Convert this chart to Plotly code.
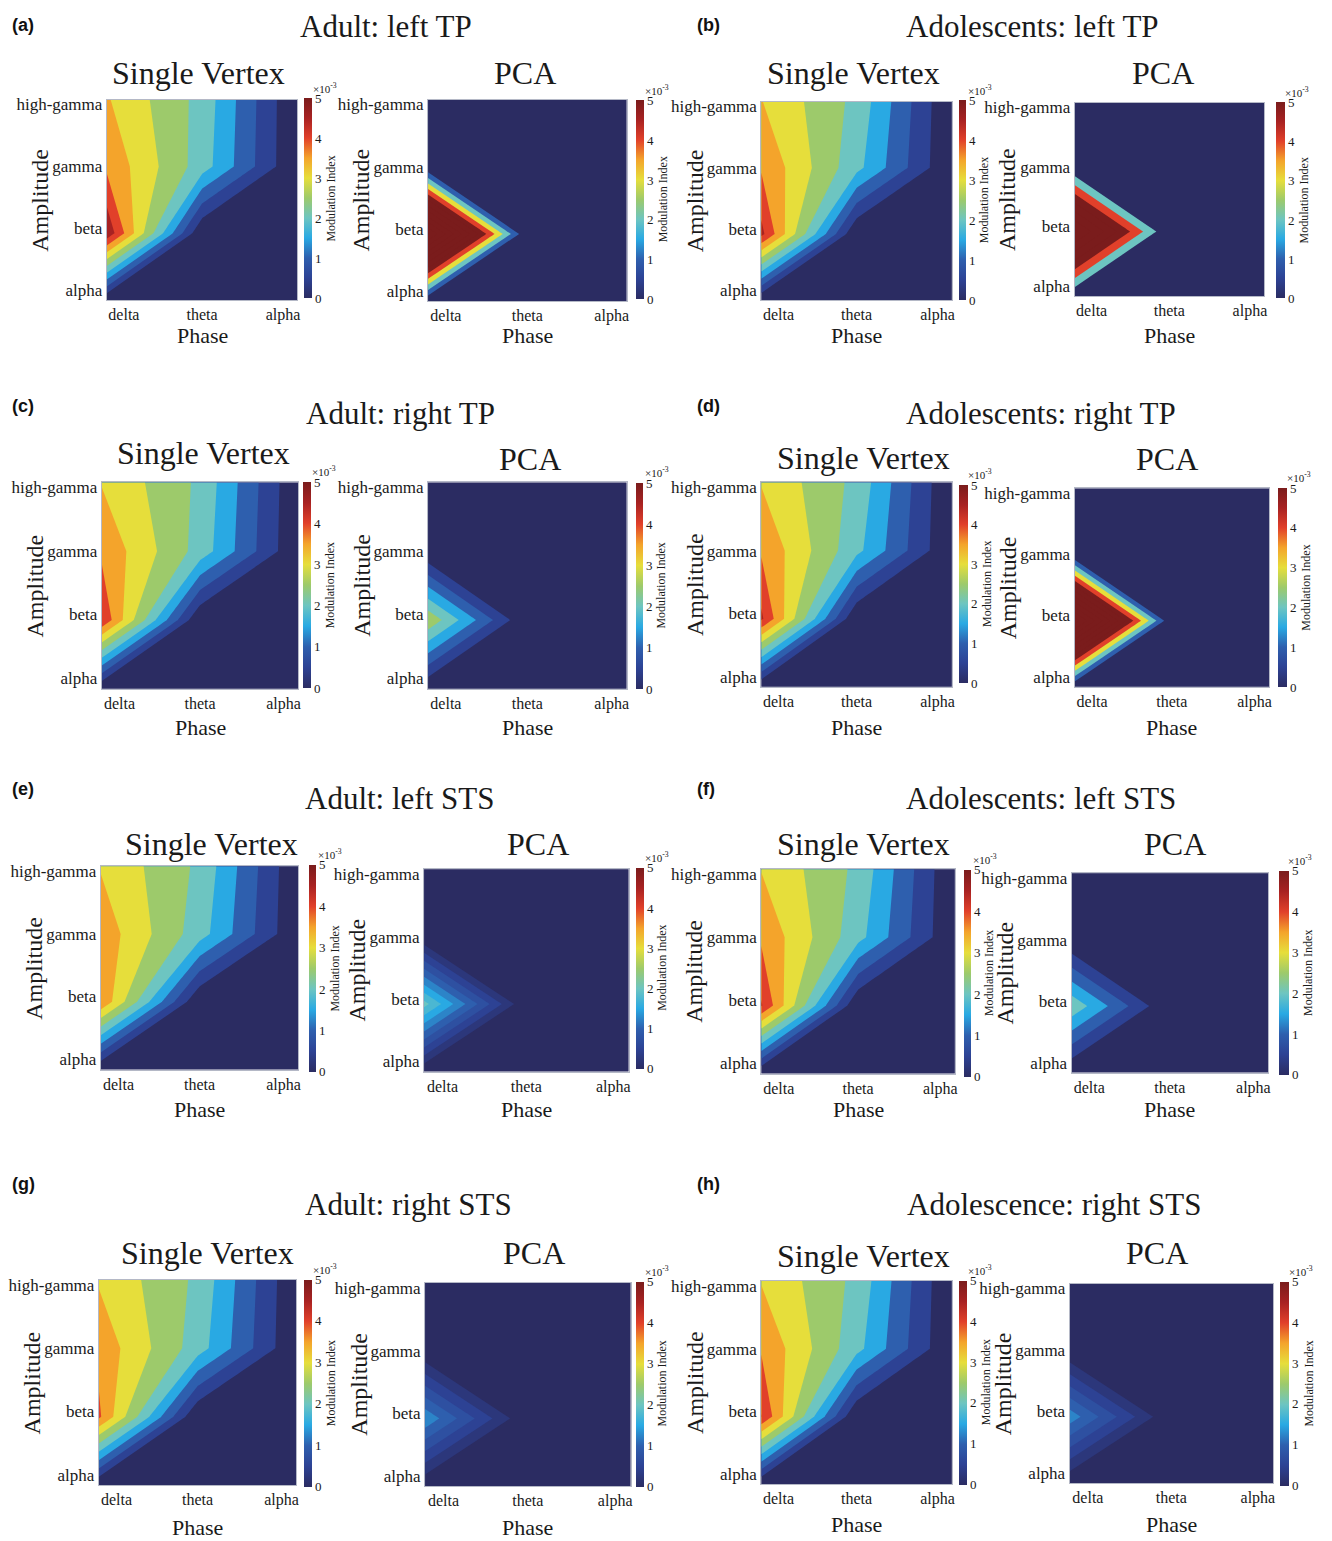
import plotly.graph_objects as go

W, H = 1332, 1541

# ---------------- data (Modulation Index, x1e-3) ----------------
phase_labels = ["delta", "theta", "alpha"]
amp_labels = ["alpha", "beta", "gamma", "high-gamma"]
phase_tickpos = [0.18, 1.0, 1.85]
amp_tickpos = [0.15, 1.08, 2.0, 2.93]
grid_x = [0, 1, 2]          # phase grid (delta .. alpha)
grid_y = [0, 1, 2, 3]       # amplitude grid (alpha .. high-gamma)

# rows: alpha, beta, gamma, high-gamma ; cols: delta, theta, alpha
sv_a = [[0, 0, 0], [4.9, 0, 0], [3.9, 2.25, 0], [3.55, 2.33, 0]]
sv_b = [[0, 0, 0], [4.65, 0, 0], [3.95, 2.16, 0], [3.52, 2.36, 0]]
sv_c = [[0, 0, 0], [4.45, 0, 0], [3.9, 2.3, 0.03], [3.47, 2.4, 0.05]]
sv_d = [[0, 0, 0], [4.6, 0, 0], [3.94, 2.15, 0], [3.47, 2.36, 0]]
sv_e = [[0, 0, 0], [3.95, 0, 0], [3.82, 2.23, 0.03], [3.46, 2.4, 0.04]]
sv_f = [[0, 0, 0], [4.55, 0, 0], [3.92, 2.18, 0], [3.48, 2.38, 0]]
sv_g = [[0, 0, 0], [4.1, 0, 0], [3.85, 2.25, 0.03], [3.45, 2.4, 0.04]]
sv_h = [[0, 0, 0], [4.52, 0, 0], [3.95, 2.17, 0], [3.47, 2.37, 0]]

pca_a = [[0, 0, 0], [12.1, 0, 0], [0, 0, 0], [0, 0, 0]]
pca_b = [[0, 0, 0], [14.5, 0, 0], [0, 0, 0], [0, 0, 0]]
pca_c = [[0, 0, 0], [2.9, 0, 0], [0, 0, 0], [0, 0, 0]]
pca_d = [[0, 0, 0], [12.6, 0, 0], [0, 0, 0], [0, 0, 0]]
pca_e = [[0, 0, 0], [2.1, 0, 0], [0, 0, 0], [0, 0, 0]]
pca_f = [[0, 0, 0], [2.38, 0, 0], [0, 0, 0], [0, 0, 0]]
pca_g = [[0, 0, 0], [1.45, 0, 0], [0, 0, 0], [0, 0, 0]]
pca_h = [[0, 0, 0], [1.4, 0, 0], [0, 0, 0], [0, 0, 0]]

panel_letters = ["(a)", "(b)", "(c)", "(d)", "(e)", "(f)", "(g)", "(h)"]
panel_titles = ["Adult: left TP", "Adolescents: left TP", "Adult: right TP",
                "Adolescents: right TP", "Adult: left STS", "Adolescents: left STS",
                "Adult: right STS", "Adolescence: right STS"]
sv_data = [sv_a, sv_b, sv_c, sv_d, sv_e, sv_f, sv_g, sv_h]
pca_data = [pca_a, pca_b, pca_c, pca_d, pca_e, pca_f, pca_g, pca_h]
CMIN, CMAX = 0, 5

# ---------------- styling / layout ----------------
SERIF = "Liberation Serif, Times New Roman, serif"
SANS = "Liberation Sans, Arial, sans-serif"
TXT = "#1a1a1a"

cmap_anchors = [
    (0.0, "#2b2c62"), (0.1, "#2d4294"), (0.2, "#2e5fae"), (0.3, "#29a9e3"),
    (0.4, "#6dc5c1"), (0.5, "#9dca6b"), (0.6, "#e6de3b"), (0.7, "#f4a42b"),
    (0.8, "#e1402a"), (0.9, "#a82222"), (1.0, "#7a1c1c"),
]


def _rgb(h):
    return tuple(int(h[i:i + 2], 16) for i in (1, 3, 5))


def cmap(f):
    f = max(0.0, min(1.0, f))
    for (p0, c0), (p1, c1) in zip(cmap_anchors[:-1], cmap_anchors[1:]):
        if f <= p1 + 1e-12:
            t = 0 if p1 == p0 else (f - p0) / (p1 - p0)
            a, b = _rgb(c0), _rgb(c1)
            return "rgb(%d,%d,%d)" % tuple(round(a[i] + (b[i] - a[i]) * t) for i in range(3))
    return cmap_anchors[-1][1]


CONT_SCALE = [[p, c] for p, c in cmap_anchors]
NAVY = cmap_anchors[0][1]
CLEAR = "rgba(0,0,0,0)"

# per subplot: plot rect (l, r, t, b), colorbar rect, title centre, Phase y, level step
subplots = [
    # (a)
    dict(rect=(107, 298, 95, 296), cb=(305, 313, 94, 294), tt=(199, 68), ph=332, step=0.5),
    dict(rect=(429, 628, 95, 297), cb=(637, 645, 96, 295), tt=(526, 68), ph=332, step=1.0),
    # (b)
    dict(rect=(763, 954, 97, 296), cb=(961, 968, 96, 296), tt=(855, 68), ph=332, step=0.5),
    dict(rect=(1077, 1267, 98, 292), cb=(1279, 1288, 98, 294), tt=(1166, 68), ph=332, step=2.0),
    # (c)
    dict(rect=(102, 299, 479, 686), cb=(304, 312, 479, 685), tt=(204, 449), ph=725, step=0.5),
    dict(rect=(429, 628, 479, 686), cb=(637, 644, 480, 686), tt=(531, 455), ph=725, step=0.5),
    # (d)
    dict(rect=(763, 954, 479, 684), cb=(961, 970, 482, 680), tt=(865, 454), ph=725, step=0.5),
    dict(rect=(1077, 1272, 485, 684), cb=(1281, 1290, 485, 684), tt=(1170, 455), ph=725, step=1.0),
    # (e)
    dict(rect=(101, 299, 864, 1068), cb=(310, 317, 863, 1070), tt=(212, 842), ph=1108, step=0.5),
    dict(rect=(425, 630, 867, 1070), cb=(637, 645, 866, 1067), tt=(539, 842), ph=1108, step=0.25),
    # (f)
    dict(rect=(763, 957, 867, 1072), cb=(966, 973, 868, 1075), tt=(865, 842), ph=1108, step=0.5),
    dict(rect=(1074, 1271, 871, 1071), cb=(1282, 1292, 869, 1073), tt=(1178, 842), ph=1108, step=0.5),
    # (g)
    dict(rect=(99, 297, 1279, 1485), cb=(305, 313, 1279, 1486), tt=(208, 1252), ph=1527, step=0.5),
    dict(rect=(426, 632, 1282, 1486), cb=(637, 645, 1281, 1486), tt=(535, 1252), ph=1527, step=0.25),
    # (h)
    dict(rect=(763, 954, 1280, 1484), cb=(961, 969, 1280, 1484), tt=(865, 1255), ph=1524, step=0.5),
    dict(rect=(1072, 1276, 1283, 1483), cb=(1283, 1292, 1281, 1485), tt=(1160, 1252), ph=1524, step=0.25),
]

panel_title_pos = [(387, 22), (1035, 22), (401, 410), (1043, 410),
                   (400, 796), (1043, 796), (409, 1203), (1056, 1203)]
panel_letter_pos = [(10, 20), (697, 20), (10, 402), (697, 402),
                    (10, 787), (697, 787), (10, 1183), (697, 1183)]


def px(x):
    return x / W


def py(y):
    return 1 - y / H


fig = go.Figure()
annotations = []
layout_axes = {}

for i, sp in enumerate(subplots):
    panel = i // 2
    z = sv_data[panel] if i % 2 == 0 else pca_data[panel]
    name = "Single Vertex" if i % 2 == 0 else "PCA"
    n = i + 1
    xa, ya = ("x" if n == 1 else "x%d" % n), ("y" if n == 1 else "y%d" % n)
    s = sp["step"]
    zmax = max(max(r) for r in z)
    K = int(zmax / s + 1e-9)
    levels = [s * k for k in range(1, K + 1)]

    # one filled contour per level: region above the level gets the colour of that level
    for lev in levels:
        col = cmap(lev / CMAX)
        fig.add_trace(go.Contour(
            x=grid_x, y=grid_y, z=z, xaxis=xa, yaxis=ya,
            autocontour=False,
            contours=dict(start=lev, end=lev, size=s, coloring="fill", showlines=False),
            colorscale=[[0, CLEAR], [0.01, col], [1, col]], showscale=False,
            line=dict(width=0, smoothing=0), hoverinfo="skip",
        ))

    l, r, t, b = sp["cb"]
    fig.add_trace(go.Scatter(
        x=[None], y=[None], mode="markers", xaxis=xa, yaxis=ya, hoverinfo="skip",
        showlegend=False,
        marker=dict(color=[0], colorscale=CONT_SCALE, cmin=CMIN, cmax=CMAX, showscale=True,
                    colorbar=dict(x=px(l), xanchor="left", xpad=0, xref="paper",
                                  y=py((t + b) / 2), yanchor="middle", ypad=0, yref="paper",
                                  len=b - t, lenmode="pixels",
                                  thickness=r - l, thicknessmode="pixels",
                                  outlinewidth=0, ticks="", tickvals=[0, 1, 2, 3, 4, 5],
                                  tickfont=dict(family=SERIF, size=13, color=TXT))),
    ))
    annotations.append(dict(x=px(l + 7), y=py(t - 11), xanchor="left", yanchor="middle",
                            text="×10<sup>-3</sup>", font=dict(family=SERIF, size=11, color=TXT)))
    annotations.append(dict(x=px(r + 19), y=py((t + b) / 2), xanchor="center", yanchor="middle",
                            textangle=-90, text="Modulation Index",
                            font=dict(family=SERIF, size=12, color=TXT)))

    L, R, T, B = sp["rect"]
    axis_style = dict(showgrid=False, zeroline=False, showline=True, mirror=True,
                      linecolor="#b4b8c6", linewidth=1, ticks="")
    layout_axes["xaxis" if n == 1 else "xaxis%d" % n] = dict(
        domain=[px(L), px(R)], range=[0, 2], anchor=ya,
        tickvals=phase_tickpos, ticktext=phase_labels,
        tickfont=dict(family=SERIF, size=16, color=TXT), **axis_style)
    layout_axes["yaxis" if n == 1 else "yaxis%d" % n] = dict(
        domain=[py(B), py(T)], range=[0, 3], anchor=xa,
        tickvals=amp_tickpos, ticktext=amp_labels,
        tickfont=dict(family=SERIF, size=17, color=TXT), **axis_style)

    tx, ty = sp["tt"]
    annotations.append(dict(x=px(tx), y=py(ty), xanchor="center", yanchor="middle",
                            text=name, font=dict(family=SERIF, size=32, color=TXT)))
    annotations.append(dict(x=px((L + R) / 2), y=py(sp["ph"]), xanchor="center",
                            yanchor="middle", text="Phase",
                            font=dict(family=SERIF, size=22, color=TXT)))
    annotations.append(dict(x=px(L - 67), y=py((T + B) / 2), xanchor="center",
                            yanchor="middle", textangle=-90, text="Amplitude",
                            font=dict(family=SERIF, size=24, color=TXT)))

for k in range(8):
    x0, y0 = panel_title_pos[k]
    annotations.append(dict(x=px(x0), y=py(y0), xanchor="center", yanchor="middle",
                            text=panel_titles[k], font=dict(family=SERIF, size=31, color=TXT)))
    x1, y1 = panel_letter_pos[k]
    annotations.append(dict(x=px(x1), y=py(y1), xanchor="left", yanchor="middle",
                            text="<b>%s</b>" % panel_letters[k],
                            font=dict(family=SANS, size=18, color="#111")))

for a in annotations:
    a.update(xref="paper", yref="paper", showarrow=False)

fig.update_layout(width=W, height=H, margin=dict(l=0, r=0, t=0, b=0),
                  paper_bgcolor="white", plot_bgcolor=NAVY, showlegend=False,
                  annotations=annotations, **layout_axes)

fig.write_html("out.html")
